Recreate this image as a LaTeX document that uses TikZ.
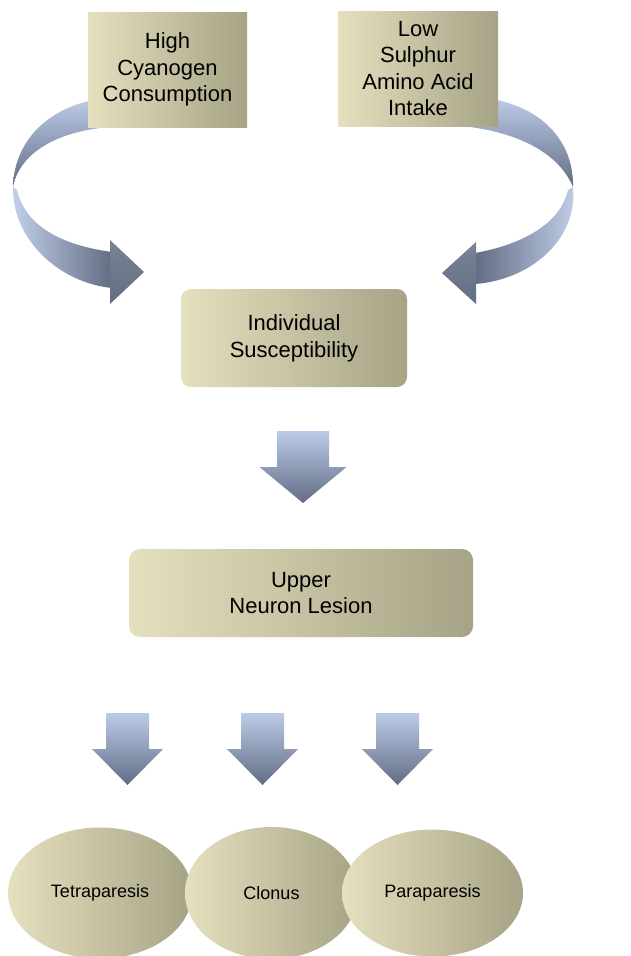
\documentclass[tikz,border=0pt]{standalone}
\usepackage{fontspec}
\setmainfont{Liberation Sans}
\usetikzlibrary{shapes.geometric}
\definecolor{boxL}{RGB}{229,224,190}
\definecolor{boxR}{RGB}{166,163,134}
\definecolor{arrL}{RGB}{188,203,232}
\definecolor{arrD}{RGB}{98,109,132}
\tikzset{
  box/.style={draw=none, left color=boxL, right color=boxR, inner sep=0pt, align=center,
    font=\fontsize{22}{26.7}\selectfont, text=black},
  oval/.style={ellipse, draw=none, left color=boxL, right color=boxR, inner sep=0pt,
    font=\fontsize{18}{22}\selectfont, text=black},
  downarr/.pic={\shade[top color=arrL, bottom color=arrD]
     (-26,0) -- (26,0) -- (26,-36) -- (43.5,-36) -- (0,-72) -- (-43.5,-36) -- (-26,-36) -- cycle;},
  downarrsmall/.pic={\shade[top color=arrL, bottom color=arrD]
     (-21.5,0) -- (21.5,0) -- (21.5,-36) -- (35.5,-36) -- (0,-72) -- (-35.5,-36) -- (-21.5,-36) -- cycle;}
}
\begin{document}
\begin{tikzpicture}[x=1pt,y=1pt]
\useasboundingbox (0,0) rectangle (630,-956);
% upper bands of the curved arrows (behind the top boxes)
\shade[top color=arrL, bottom color=arrD]
  (100,-99) .. controls (50,-106) and (14,-140) .. (13,-187)
  .. controls (18,-160) and (45,-135) .. (100,-128) -- cycle;
\shade[top color=arrL, bottom color=arrD]
  (485,-98) .. controls (540,-105) and (574,-140) .. (573,-187)
  .. controls (562,-160) and (530,-135) .. (470,-127) -- cycle;
% top boxes
\node[box, minimum width=159, minimum height=115] (b1) at (167.5,-69.5) {High\\Cyanogen\\Consumption};
\node[box, minimum width=160, minimum height=115, font=\fontsize{22}{26.3}\selectfont] (b2) at (418,-68.5) {Low\\Sulphur\\Amino Acid\\Intake};
% lower bands and heads
\shade[left color=arrL!90!white, right color=arrD]
  (13,-187) .. controls (12,-240) and (60,-283) .. (112,-288)
  -- (112,-252) .. controls (60,-245) and (25,-225) .. (17,-190) -- cycle;
\shade[top color=arrD!85!white, bottom color=arrD] (110,-240) -- (144,-272) -- (110,-304) -- cycle;
\shade[right color=arrL!90!white, left color=arrD]
  (573,-187) .. controls (578,-240) and (530,-280) .. (475,-284)
  -- (475,-253) .. controls (520,-245) and (560,-225) .. (568,-190) -- cycle;
\shade[top color=arrD!85!white, bottom color=arrD] (476,-242) -- (442,-273) -- (476,-304) -- cycle;
% middle boxes
\node[box, rounded corners=10pt, minimum width=226, minimum height=98] (sus) at (294,-338) {Individual\\Susceptibility};
\node[box, rounded corners=11pt, minimum width=344, minimum height=88] (unl) at (301,-593) {Upper\\Neuron Lesion};
% straight block arrows
\pic at (303,-431) {downarr};
\pic at (127.5,-713) {downarrsmall};
\pic at (262.5,-713) {downarrsmall};
\pic at (397.5,-713) {downarrsmall};
% ellipses
\node[oval, minimum width=184, minimum height=131] (e1) at (100,-893) {Tetraparesis};
\node[oval, minimum width=173, minimum height=132] (e2) at (271.5,-893) {Clonus};
\node[oval, minimum width=181, minimum height=127] (e3) at (432.5,-893) {Paraparesis};
\end{tikzpicture}
\end{document}
